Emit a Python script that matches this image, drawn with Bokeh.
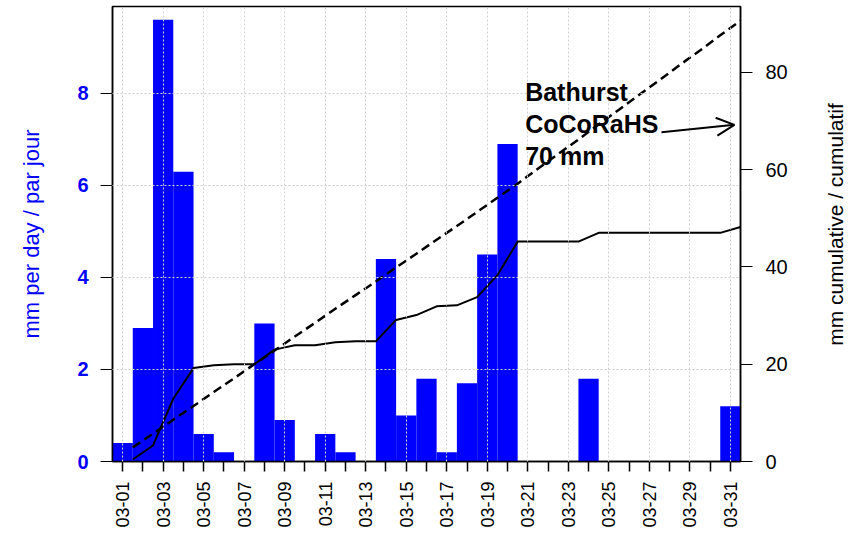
import math
from bokeh.plotting import figure
from bokeh.models import Range1d, LinearAxis, FixedTicker, Label, Arrow, OpenHead
from bokeh.embed import file_html
from bokeh.resources import INLINE

# ---- data (March, daily precipitation) ----
days = list(range(1, 32))
daily_mm = [0.4, 2.9, 9.6, 6.3, 0.6, 0.2, 0.0, 3.0, 0.9, 0.0,
            0.6, 0.2, 0.0, 4.4, 1.0, 1.8, 0.2, 1.7, 4.5, 6.9,
            0.0, 0.0, 0.0, 1.8, 0.0, 0.0, 0.0, 0.0, 0.0, 0.0, 1.2]
normal_cum_mm = [2.9, 5.7, 8.6, 11.4, 14.3, 17.1, 20.0, 22.8, 25.7, 28.5,
                 31.4, 34.2, 37.0, 39.9, 42.7, 45.6, 48.4, 51.3, 54.2, 57.1,
                 60.2, 63.2, 66.2, 69.3, 72.3, 75.4, 78.4, 81.5, 84.5, 87.6, 90.6]
label_days = [1, 3, 5, 7, 9, 11, 13, 15, 17, 19, 21, 23, 25, 27, 29, 31]
label_texts = ["03-01", "03-03", "03-05", "03-07", "03-09", "03-11", "03-13", "03-15",
               "03-17", "03-19", "03-21", "03-23", "03-25", "03-27", "03-29", "03-31"]
left_ticks = [0, 2, 4, 6, 8]
right_ticks = [0, 20, 40, 60, 80]
note_lines = ["Bathurst", "CoCoRaHS", "70 mm"]

cum_mm = []
s = 0.0
for v in daily_mm:
    s += v
    cum_mm.append(round(s, 2))
day_end = [d + 0.5 for d in days]

FONT = "Liberation Sans"

p = figure(width=854, height=532, x_range=Range1d(0.5, 31.5), y_range=Range1d(0, 9.89),
           output_backend="svg", toolbar_location=None,
           min_border_left=112, min_border_right=114, min_border_top=6, min_border_bottom=71)
p.background_fill_color = "white"
p.border_fill_color = "white"
p.outline_line_color = "black"
p.outline_line_width = 1.5

p.extra_y_ranges = {"cum": Range1d(0, 93.53)}

p.vbar(x=days, top=daily_mm, width=1.0, fill_color="#0000ff", line_color=None)
p.line(day_end, normal_cum_mm, y_range_name="cum", line_color="black",
       line_width=2.5, line_dash="9 5")
p.line(day_end, cum_mm, y_range_name="cum", line_color="black", line_width=2)

# x axis
xa = p.xaxis[0]
xa.ticker = FixedTicker(ticks=days)
overrides = {d: "" for d in days}
for d, t in zip(label_days, label_texts):
    overrides[d] = t
xa.major_label_overrides = overrides
xa.major_label_orientation = math.pi / 2
xa.major_label_text_font = FONT
xa.major_label_text_font_size = "18px"
xa.major_label_text_color = "black"
xa.major_tick_out = 10
xa.major_tick_in = 0
xa.minor_tick_out = 0
xa.minor_tick_in = 0
xa.major_label_standoff = 10
xa.axis_line_width = 1.5
xa.major_tick_line_width = 1.5

# left axis
ya = p.yaxis[0]
ya.ticker = FixedTicker(ticks=left_ticks)
ya.major_label_text_font = FONT
ya.major_label_text_font_size = "20px"
ya.major_label_text_font_style = "bold"
ya.major_label_text_color = "#0000ff"
ya.major_tick_out = 12
ya.major_tick_in = 0
ya.minor_tick_out = 0
ya.minor_tick_in = 0
ya.major_label_standoff = 12
ya.axis_line_width = 1.5
ya.axis_label = "mm per day / par jour"
ya.axis_label_text_font = FONT
ya.axis_label_text_font_size = "22px"
ya.axis_label_text_font_style = "normal"
ya.axis_label_text_color = "#0000ff"
ya.axis_label_standoff = 30

# right axis (ticks)
ra = LinearAxis(y_range_name="cum", ticker=FixedTicker(ticks=right_ticks))
ra.major_label_text_font = FONT
ra.major_label_text_font_size = "20px"
ra.major_label_text_color = "black"
ra.major_tick_out = 12
ra.major_tick_in = 0
ra.minor_tick_out = 0
ra.minor_tick_in = 0
ra.major_label_standoff = 13
ra.axis_line_width = 1.5
p.add_layout(ra, "right")

# right axis title, reading bottom to top, placed in the right side panel
p.add_layout(Label(x=33, y=237, x_units="screen", y_units="screen",
                   text="mm cumulative / cumulatif", angle=math.pi / 2,
                   text_align="center", text_baseline="top", text_color="black",
                   text_font=FONT, text_font_size="21px"), "right")

# grids
p.xgrid.ticker = FixedTicker(ticks=label_days)
p.ygrid.ticker = FixedTicker(ticks=left_ticks)
for g in (p.xgrid[0], p.ygrid[0]):
    g.grid_line_color = "#cfcfcf"
    g.grid_line_dash = "2 2"
    g.grid_line_width = 1
    g.level = "annotation"

# annotation
for txt, yv in zip(note_lines, [8.03, 7.34, 6.65]):
    p.add_layout(Label(x=20.87, y=yv, text=txt, text_font=FONT, text_font_size="25px",
                       text_font_style="bold", text_color="black",
                       text_align="left", text_baseline="alphabetic"))
p.add_layout(Arrow(end=OpenHead(size=18, line_width=2, line_color="black"),
                   x_start=27.6, y_start=67.7, x_end=31.2, y_end=69.2,
                   y_range_name="cum", line_width=2, line_color="black"))

open("out.html", "w").write(file_html(p, INLINE))
